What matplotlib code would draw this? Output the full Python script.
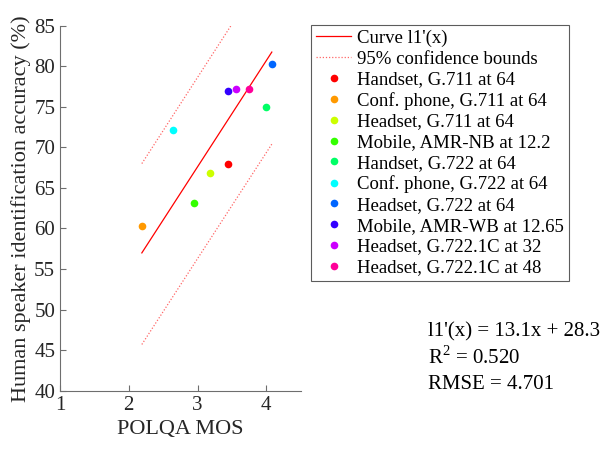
import colorsys
import numpy as np
import matplotlib.pyplot as plt

plt.rcParams['font.family'] = ['Liberation Serif', 'DejaVu Serif']
plt.rcParams['mathtext.fontset'] = 'custom'
plt.rcParams['mathtext.rm'] = 'Liberation Serif'

labels = ['Handset, G.711 at 64', 'Conf. phone, G.711 at 64', 'Headset, G.711 at 64',
          'Mobile, AMR-NB at 12.2', 'Handset, G.722 at 64', 'Conf. phone, G.722 at 64',
          'Headset, G.722 at 64', 'Mobile, AMR-WB at 12.65', 'Headset, G.722.1C at 32',
          'Headset, G.722.1C at 48']
mos = [3.44, 2.19, 3.18, 2.95, 4.00, 2.65, 4.08, 3.45, 3.56, 3.75]
accuracy = [67.9, 60.3, 66.9, 63.1, 75.0, 72.2, 80.3, 76.9, 77.2, 77.2]

slope, intercept = 13.1, 28.3
fit_x = [2.19, 4.08]
upper_bound = [68.0, 92.8]
lower_bound = [45.7, 70.4]

colors = [colorsys.hsv_to_rgb(i / 10, 1, 1) for i in range(10)]

fig = plt.figure(figsize=(6.04, 4.5), dpi=100)
ax = fig.add_axes([60 / 604, 1 - 390.7 / 450, 240.7 / 604, 365 / 450])

fit_y = [slope * x + intercept for x in fit_x]
ax.plot(fit_x, fit_y, color='red', lw=0.9, label="Curve l1'(x)")
ax.plot(fit_x, upper_bound, color='red', lw=0.9, ls=(0, (1, 1.5)), alpha=0.6,
        label='95% confidence bounds')
ax.plot(fit_x, lower_bound, color='red', lw=0.9, ls=(0, (1, 1.5)), alpha=0.6)

for x, y, c, lab in zip(mos, accuracy, colors, labels):
    ax.plot(x, y, 'o', color=c, ms=5.5, mec='none', label=lab)

ax.set_xlim(1, 4.5)
ax.set_ylim(40, 85)
ax.set_xticks([1, 2, 3, 4])
ax.set_yticks(np.arange(40, 86, 5))
ax.spines['top'].set_visible(False)
ax.spines['right'].set_visible(False)
for s in ['left', 'bottom']:
    ax.spines[s].set_color('#6e6e6e')
ax.tick_params(direction='in', length=4, color='#6e6e6e', labelsize=15, labelcolor='#262626')
ax.set_xlabel('POLQA MOS', fontsize=16, color='#262626', labelpad=4)
ax.set_ylabel('Human speaker identification accuracy (%)', fontsize=16, color='#262626', labelpad=2)

leg = ax.legend(loc='upper left', bbox_to_anchor=(311 / 604, 1 - 25 / 450),
                bbox_transform=fig.transFigure, fontsize=13.5, frameon=True,
                fancybox=False, edgecolor='#333333', handlelength=1.9,
                handletextpad=0.3, labelspacing=0.19, borderpad=0.25, borderaxespad=0,
                prop={'family': 'Liberation Serif', 'size': 13.5})
leg.get_frame().set_linewidth(0.8)

fig.text(428 / 604, 1 - 336 / 450, "l1'(x) = 13.1x + 28.3", fontsize=15)
fig.text(428 / 604, 1 - 364 / 450, "R$^2$ = 0.520", fontsize=15)
fig.text(428 / 604, 1 - 389 / 450, "RMSE = 4.701", fontsize=15)

fig.savefig('out.png', dpi=100)
